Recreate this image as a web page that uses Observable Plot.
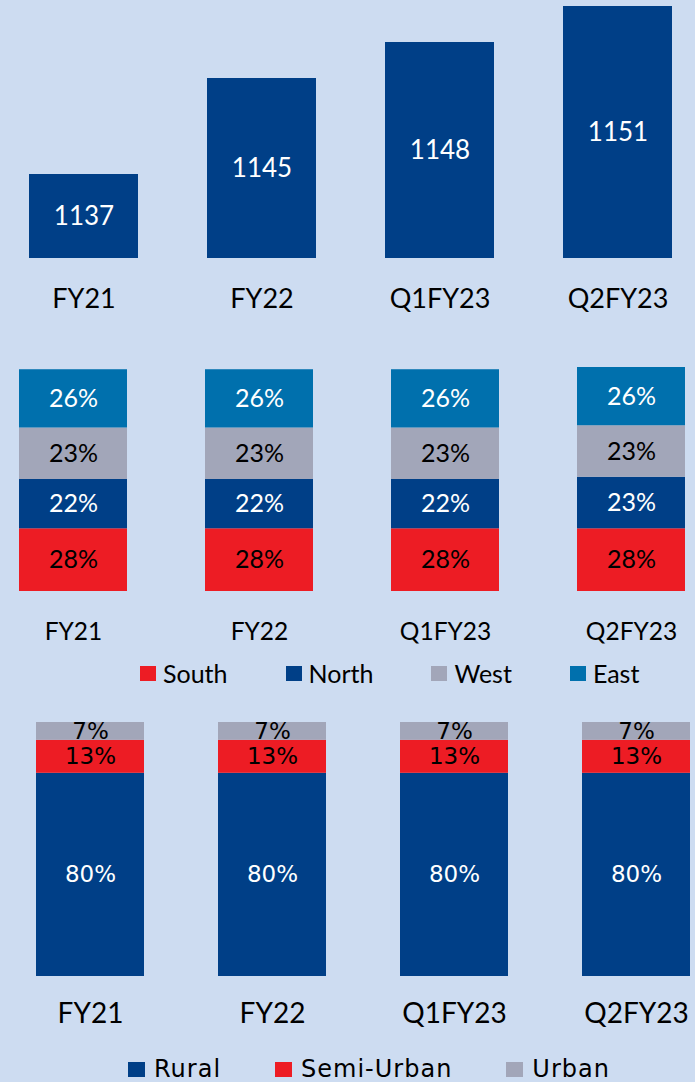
<!DOCTYPE html>
<html><head><meta charset="utf-8">
<script src="https://cdn.jsdelivr.net/npm/d3@7"></script>
<script src="https://cdn.jsdelivr.net/npm/@observablehq/plot@0.6"></script>
<style>
html,body{margin:0;padding:0;background:#cddcf1;}
#root{position:relative;width:695px;height:1082px;overflow:hidden;background:#cddcf1;}
.panel{position:absolute;left:0;}
.legend{position:absolute;display:flex;align-items:center;white-space:nowrap;color:#000;}
.legend .item{display:flex;align-items:center;}
.legend .sw{display:inline-block;}
#legend2{top:658px;left:140px;gap:58px;font-family:Lato,sans-serif;font-size:25px;height:30px;}
#legend2 .sw{width:16px;height:15px;margin-right:7px;}
#legend3{top:1057px;left:128px;gap:54px;font-family:"DejaVu Sans",sans-serif;font-size:24px;line-height:24px;letter-spacing:1px;height:24px;}
#legend3 .sw{width:17px;height:15px;margin-right:9px;}
</style></head><body><div id="root"></div>
<script>
// ---- data ----
const periods = ["FY21", "FY22", "Q1FY23", "Q2FY23"];
const branches = [1137, 1145, 1148, 1151];

const regions = ["South", "North", "West", "East"];
const south = [28, 28, 28, 28];
const north = [22, 22, 22, 23];
const west = [23, 23, 23, 23];
const east = [26, 26, 26, 26];

const areas = ["Rural", "Semi-Urban", "Urban"];
const rural = [80, 80, 80, 80];
const semiUrban = [13, 13, 13, 13];
const urban = [7, 7, 7, 7];

// ---- styling ----
const DARK = "#003f87", RED = "#ed1c24", GRAY = "#a2a6b9", EAST = "#0070ad";
const regionFill = {South: RED, North: DARK, West: GRAY, East: EAST};
const regionText = {South: "#000", North: "#fff", West: "#000", East: "#fff"};
const areaFill = {Rural: DARK, "Semi-Urban": RED, Urban: GRAY};
const areaText = {Rural: "#fff", "Semi-Urban": "#000", Urban: "#000"};

const root = document.getElementById("root");
function place(el, top) {
  const wrap = document.createElement("div");
  wrap.className = "panel";
  wrap.style.top = top + "px";
  wrap.appendChild(el);
  root.appendChild(wrap);
}

// ---- panel 1 ----
const d1 = periods.map((p, i) => ({period: p, value: branches[i]}));
const base1 = 1130;
const p1 = Plot.plot({
  width: 695, height: 330,
  marginTop: 6, marginBottom: 72, marginLeft: 28, marginRight: 22,
  style: {background: "transparent", fontFamily: "Lato, sans-serif", color: "#000"},
  x: {domain: periods, paddingInner: 0.385, paddingOuter: 0},
  y: {domain: [base1, 1151], axis: null},
  marks: [
    Plot.barY(d1, {x: "period", y1: base1, y2: "value", fill: DARK}),
    Plot.text(d1, {x: "period", y: d => (d.value + base1) / 2, text: d => String(d.value), fill: "#fff", fontSize: 26}),
    Plot.axisX({tickSize: 0, tickPadding: 30, fontSize: 27, fill: "#000", label: null})
  ]
});
place(p1, 0);

// ---- panel 2 ----
const regionVals = {South: south, North: north, West: west, East: east};
const d2 = [];
periods.forEach((p, i) => regions.forEach(r => d2.push({period: p, region: r, value: regionVals[r][i]})));
const p2 = Plot.plot({
  width: 695, height: 290,
  marginTop: 7, marginBottom: 59, marginLeft: 18, marginRight: 8,
  style: {background: "transparent", fontFamily: "Lato, sans-serif", color: "#000"},
  x: {domain: periods, paddingInner: 0.417, paddingOuter: 0},
  y: {domain: [0, 100], axis: null},
  color: {type: "identity"},
  marks: [
    Plot.barY(d2, Plot.stackY({x: "period", y: "value", z: "region", order: regions, fill: d => regionFill[d.region]})),
    Plot.text(d2, Plot.stackY({x: "period", y: "value", z: "region", order: regions, text: d => d.value + "%", fill: d => regionText[d.region], fontSize: 25})),
    Plot.axisX({tickSize: 0, tickPadding: 31, fontSize: 24.5, fill: "#000", label: null})
  ]
});
place(p2, 360);

// ---- legend 2 ----
const lg2 = document.createElement("div");
lg2.id = "legend2"; lg2.className = "legend";
regions.forEach(r => {
  const it = document.createElement("div"); it.className = "item";
  const sw = document.createElement("span"); sw.className = "sw"; sw.style.background = regionFill[r];
  const tx = document.createElement("span"); tx.textContent = r;
  it.appendChild(sw); it.appendChild(tx); lg2.appendChild(it);
});
root.appendChild(lg2);

// ---- panel 3 ----
const areaVals = {Rural: rural, "Semi-Urban": semiUrban, Urban: urban};
const d3data = [];
periods.forEach((p, i) => areas.forEach(a => d3data.push({period: p, area: a, value: areaVals[a][i]})));
const p3 = Plot.plot({
  width: 695, height: 340,
  marginTop: 22, marginBottom: 64, marginLeft: 36, marginRight: 5,
  style: {background: "transparent", fontFamily: "Lato, sans-serif", color: "#000"},
  x: {domain: periods, paddingInner: 0.407, paddingOuter: 0},
  y: {domain: [0, 100], axis: null},
  color: {type: "identity"},
  marks: [
    Plot.barY(d3data, Plot.stackY({x: "period", y: "value", z: "area", order: areas, fill: d => areaFill[d.area]})),
    Plot.text(d3data, Plot.stackY({x: "period", y: "value", z: "area", order: areas, text: d => d.value + "%", fill: d => areaText[d.area], fontSize: 23, fontFamily: "DejaVu Sans"})),
    Plot.axisX({tickSize: 0, tickPadding: 27, fontSize: 28, fill: "#000", label: null})
  ]
});
place(p3, 700);

// ---- legend 3 ----
const lg3 = document.createElement("div");
lg3.id = "legend3"; lg3.className = "legend";
areas.forEach(a => {
  const it = document.createElement("div"); it.className = "item";
  const sw = document.createElement("span"); sw.className = "sw"; sw.style.background = areaFill[a];
  const tx = document.createElement("span"); tx.textContent = a;
  it.appendChild(sw); it.appendChild(tx); lg3.appendChild(it);
});
root.appendChild(lg3);
</script>
</body></html>
